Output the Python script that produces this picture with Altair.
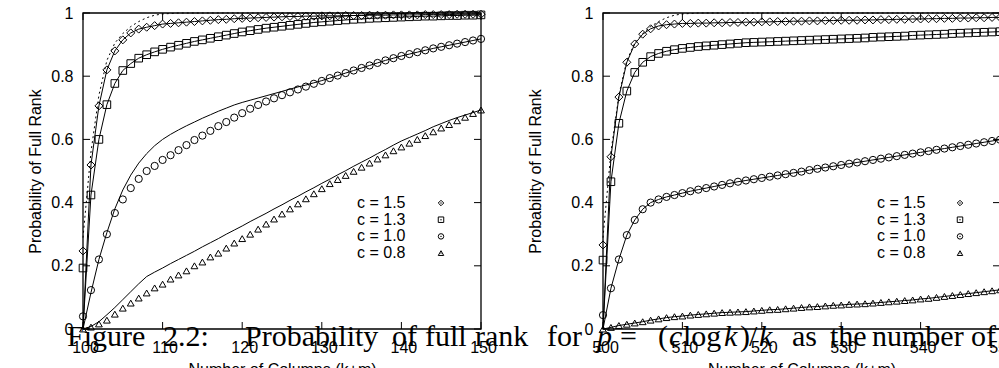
import altair as alt
import pandas as pd

# ---------------- data ----------------
series_names = ["c = 1.5", "c = 1.3", "c = 1.0", "c = 0.8"]
series_shapes = ["diamond", "square", "circle", "triangle-up"]

k_left = list(range(100, 151))
k_right = list(range(500, 551))

x_ticks_left = [100, 110, 120, 130, 140, 150]
x_ticks_right = [500, 510, 520, 530, 540, 550]
y_ticks = [0, 0.2, 0.4, 0.6, 0.8, 1]

# left panel: simulated points
left_c15 = [0.247, 0.519, 0.706, 0.820, 0.880, 0.915, 0.937, 0.949, 0.955, 0.960,
            0.965, 0.967, 0.969, 0.971, 0.973, 0.975, 0.977, 0.979, 0.980, 0.982,
            0.983, 0.984, 0.985, 0.986, 0.987, 0.988, 0.989, 0.989, 0.990, 0.990,
            0.991, 0.991, 0.991, 0.992, 0.992, 0.992, 0.993, 0.993, 0.993, 0.994,
            0.994, 0.994, 0.994, 0.995, 0.995, 0.995, 0.995, 0.996, 0.996, 0.996,
            0.996]
left_c13 = [0.193, 0.424, 0.600, 0.710, 0.777, 0.818, 0.840, 0.857, 0.868, 0.877,
            0.885, 0.892, 0.898, 0.904, 0.910, 0.915, 0.920, 0.925, 0.930, 0.935,
            0.940, 0.944, 0.948, 0.952, 0.955, 0.958, 0.961, 0.964, 0.967, 0.970,
            0.972, 0.974, 0.976, 0.978, 0.980, 0.981, 0.983, 0.984, 0.985, 0.986,
            0.987, 0.988, 0.989, 0.990, 0.990, 0.991, 0.992, 0.992, 0.993, 0.993,
            0.994]
left_c10 = [0.040, 0.123, 0.220, 0.300, 0.367, 0.410, 0.446, 0.475, 0.500, 0.516,
            0.535, 0.550, 0.566, 0.582, 0.598, 0.612, 0.627, 0.642, 0.655, 0.669,
            0.683, 0.697, 0.709, 0.720, 0.730, 0.740, 0.749, 0.758, 0.767, 0.776,
            0.785, 0.794, 0.802, 0.810, 0.818, 0.826, 0.834, 0.842, 0.850, 0.857,
            0.864, 0.870, 0.876, 0.882, 0.888, 0.893, 0.898, 0.903, 0.908, 0.913,
            0.918]
left_c08 = [0.000, 0.006, 0.016, 0.028, 0.047, 0.066, 0.082, 0.098, 0.114, 0.130,
            0.142, 0.158, 0.171, 0.184, 0.200, 0.212, 0.228, 0.240, 0.256, 0.272,
            0.286, 0.300, 0.316, 0.332, 0.348, 0.364, 0.380, 0.396, 0.412, 0.428,
            0.444, 0.460, 0.473, 0.486, 0.499, 0.512, 0.525, 0.538, 0.551, 0.564,
            0.576, 0.588, 0.600, 0.612, 0.624, 0.636, 0.647, 0.659, 0.670, 0.682,
            0.693]

# left panel: analytic curves (solid)
left_c15_line = [0.000, 0.519, 0.706, 0.820, 0.880, 0.915, 0.937, 0.949, 0.955, 0.960,
                 0.965, 0.967, 0.969, 0.971, 0.973, 0.975, 0.977, 0.979, 0.980, 0.982,
                 0.983, 0.984, 0.985, 0.986, 0.987, 0.988, 0.989, 0.989, 0.990, 0.990,
                 0.991, 0.991, 0.991, 0.992, 0.992, 0.992, 0.993, 0.993, 0.993, 0.994,
                 0.994, 0.994, 0.994, 0.995, 0.995, 0.995, 0.995, 0.996, 0.996, 0.996,
                 0.996]
left_c13_line = [0.000, 0.424, 0.600, 0.710, 0.777, 0.818, 0.840, 0.857, 0.868, 0.877,
                 0.885, 0.892, 0.898, 0.904, 0.910, 0.915, 0.920, 0.925, 0.930, 0.935,
                 0.940, 0.944, 0.948, 0.952, 0.955, 0.958, 0.961, 0.964, 0.967, 0.970,
                 0.972, 0.974, 0.976, 0.978, 0.980, 0.981, 0.983, 0.984, 0.985, 0.986,
                 0.987, 0.988, 0.989, 0.990, 0.990, 0.991, 0.992, 0.992, 0.993, 0.993,
                 0.994]
left_c10_line = [0.000, 0.115, 0.220, 0.305, 0.380, 0.440, 0.487, 0.525, 0.555, 0.580,
                 0.600, 0.616, 0.630, 0.643, 0.655, 0.667, 0.678, 0.689, 0.699, 0.709,
                 0.717, 0.724, 0.731, 0.738, 0.745, 0.752, 0.759, 0.766, 0.772, 0.779,
                 0.786, 0.794, 0.802, 0.810, 0.818, 0.826, 0.834, 0.842, 0.850, 0.857,
                 0.864, 0.870, 0.876, 0.882, 0.888, 0.893, 0.898, 0.903, 0.908, 0.913,
                 0.918]
left_c08_line = [0.000, 0.008, 0.023, 0.045, 0.068, 0.093, 0.118, 0.143, 0.166, 0.180,
                 0.193, 0.207, 0.220, 0.233, 0.246, 0.260, 0.273, 0.286, 0.300, 0.313,
                 0.326, 0.340, 0.353, 0.366, 0.380, 0.393, 0.407, 0.420, 0.434, 0.447,
                 0.461, 0.474, 0.488, 0.501, 0.515, 0.528, 0.541, 0.555, 0.568, 0.582,
                 0.595, 0.606, 0.617, 0.628, 0.640, 0.650, 0.660, 0.669, 0.677, 0.685,
                 0.693]

# right panel: simulated points
right_c15 = [0.266, 0.545, 0.734, 0.844, 0.902, 0.933, 0.950, 0.959, 0.963, 0.965,
             0.967, 0.967, 0.968, 0.968, 0.969, 0.969, 0.970, 0.970, 0.971, 0.971,
             0.972, 0.972, 0.973, 0.973, 0.974, 0.974, 0.975, 0.975, 0.976, 0.976,
             0.977, 0.977, 0.977, 0.978, 0.978, 0.979, 0.979, 0.980, 0.980, 0.981,
             0.981, 0.982, 0.982, 0.983, 0.983, 0.984, 0.984, 0.985, 0.985, 0.986,
             0.986]
right_c13 = [0.218, 0.466, 0.651, 0.753, 0.812, 0.844, 0.862, 0.872, 0.879, 0.884,
             0.888, 0.891, 0.894, 0.896, 0.898, 0.900, 0.902, 0.904, 0.906, 0.907,
             0.908, 0.909, 0.910, 0.911, 0.912, 0.913, 0.914, 0.915, 0.916, 0.917,
             0.918, 0.919, 0.920, 0.921, 0.923, 0.924, 0.925, 0.926, 0.927, 0.929,
             0.930, 0.931, 0.932, 0.933, 0.935, 0.936, 0.937, 0.938, 0.939, 0.940,
             0.941]
right_c10 = [0.044, 0.129, 0.220, 0.297, 0.345, 0.379, 0.400, 0.410, 0.418, 0.424,
             0.430, 0.436, 0.441, 0.446, 0.451, 0.456, 0.461, 0.466, 0.470, 0.474,
             0.478, 0.482, 0.486, 0.490, 0.494, 0.498, 0.503, 0.507, 0.511, 0.515,
             0.519, 0.523, 0.527, 0.531, 0.535, 0.539, 0.543, 0.547, 0.551, 0.555,
             0.559, 0.563, 0.567, 0.571, 0.575, 0.579, 0.583, 0.587, 0.591, 0.595,
             0.599]
right_c08 = [0.000, 0.005, 0.011, 0.015, 0.019, 0.023, 0.028, 0.032, 0.036, 0.039,
             0.041, 0.044, 0.046, 0.048, 0.050, 0.052, 0.053, 0.054, 0.055, 0.057,
             0.059, 0.061, 0.062, 0.064, 0.066, 0.068, 0.070, 0.071, 0.073, 0.075,
             0.076, 0.078, 0.079, 0.080, 0.082, 0.084, 0.086, 0.088, 0.090, 0.092,
             0.095, 0.097, 0.100, 0.103, 0.106, 0.109, 0.112, 0.115, 0.118, 0.121,
             0.124]

# right panel: analytic curves (solid) start from 0 and then follow the points
right_c15_line = [0.000] + right_c15[1:]
right_c13_line = [0.000] + right_c13[1:]
right_c10_line = [0.000] + right_c10[1:]
right_c08_line = [0.000] + right_c08[1:]

# dotted limit curve
dotted_left_k = [100, 101, 102, 103, 104, 105, 106, 107, 108, 109, 110, 112, 150]
dotted_right_k = [500, 501, 502, 503, 504, 505, 506, 507, 508, 509, 510, 512, 550]
dotted_vals = [0.289, 0.560, 0.740, 0.850, 0.905, 0.935, 0.957, 0.973, 0.985, 0.993,
               0.997, 1.0, 1.0]

# caption fragments (overlaid figure caption)
caption_text = ["Figure", "2.2:", "Probability", "of", "full", "rank", "for", "p", "=", "(",
                "c", "log", "k", ")", "/", "k", "as", "the", "number", "of"]
caption_italic = [False, False, False, False, False, False, False, True, False, False,
                  True, False, True, False, False, True, False, False, False, False]

# ---------------- layout / style ----------------
FONT = "Liberation Sans"
SERIF = "Liberation Serif"
PAD_L, PAD_T = 83, 13
PW, PH = 916, 316
LEFT_RANGE = [0, 398]
RIGHT_RANGE = [520, 917]
TICK = 7
caption_x_abs = [67, 163, 245, 392, 425, 475, 547, 597, 620, 658,
                 669, 683, 724, 740, 749, 759, 792, 830, 872, 971]

shape_scale = alt.Scale(domain=series_names, range=series_shapes)
size_scale = alt.Scale(domain=series_names, range=[64, 46, 52, 56])


def long_df(k, cols):
    rows = []
    for name, vals in zip(series_names, cols):
        for kk, v in zip(k, vals):
            rows.append({"k": kk, "p": v, "series": name})
    return pd.DataFrame(rows)


def panel(k, markers, curves, dk, dv, xticks, xrange, ytitle_x, yoffset):
    xdom = [k[0], k[-1]]
    xs = alt.Scale(domain=xdom, range=xrange, nice=False, zero=False)
    ys = alt.Scale(domain=[0, 1], nice=False, zero=False)
    xaxis = alt.Axis(values=xticks, format="d", orient="bottom", ticks=False,
                     domain=False, grid=False, labelFont=FONT, labelFontSize=16,
                     labelColor="black", labelPadding=10, labelFlush=False, labelOffset=2,
                     labelOverlap=False,
                     title="Number of Columns (k+m)", titleFont=FONT, titleFontSize=16,
                     titleFontWeight="normal", titleColor="black",
                     titleX=(xrange[0] + xrange[1]) / 2, titleY=45,
                     titleBaseline="alphabetic")
    yaxis = alt.Axis(values=y_ticks, format="~g", orient="left", offset=yoffset,
                     ticks=False, domain=False, grid=False, labelFlush=False,
                     labelOverlap=False,
                     labelFont=FONT, labelFontSize=16, labelColor="black", labelPadding=10,
                     title="Probability of Full Rank", titleFont=FONT, titleFontSize=16,
                     titleFontWeight="normal", titleColor="black", titleAngle=270,
                     titleX=ytitle_x, titleY=PH / 2, titleBaseline="alphabetic",
                     titleAlign="center")
    X = lambda f: alt.X(f, scale=xs, axis=None)
    Y = lambda f: alt.Y(f, scale=ys, axis=None)
    pts = alt.Chart(long_df(k, markers)).mark_point(
        filled=False, color="black", strokeWidth=1, opacity=1).encode(
        x=alt.X("k:Q", scale=xs, axis=xaxis), y=alt.Y("p:Q", scale=ys, axis=yaxis),
        shape=alt.Shape("series:N", scale=shape_scale, legend=None),
        size=alt.Size("series:N", scale=size_scale, legend=None))
    frame_df = pd.DataFrame({"x0": [xdom[0]], "x1": [xdom[1]], "y0": [0.0], "y1": [1.0]})
    frame = alt.Chart(frame_df).mark_rect(fill="transparent", stroke="black",
                                          strokeWidth=1.3).encode(
        x=X("x0:Q"), x2="x1:Q", y=Y("y0:Q"), y2="y1:Q")
    dotted = alt.Chart(pd.DataFrame({"k": dk, "p": dv})).mark_line(
        color="black", strokeWidth=1, strokeDash=[2, 3]).encode(x=X("k:Q"), y=Y("p:Q"))
    lines = alt.Chart(long_df(k, curves)).mark_line(color="black", strokeWidth=1).encode(
        x=X("k:Q"), y=Y("p:Q"), detail="series:N")
    xt = pd.DataFrame({"t": xticks})
    yt = pd.DataFrame({"t": y_ticks})
    rule = dict(color="black", strokeWidth=1)
    xb = alt.Chart(xt).mark_rule(**rule).encode(
        x=X("t:Q"), y=alt.value(PH), y2=alt.value(PH - TICK))
    xtp = alt.Chart(xt).mark_rule(**rule).encode(
        x=X("t:Q"), y=alt.value(0), y2=alt.value(TICK))
    yl = alt.Chart(yt).mark_rule(**rule).encode(
        y=Y("t:Q"), x=alt.value(xrange[0]), x2=alt.value(xrange[0] + TICK))
    yr = alt.Chart(yt).mark_rule(**rule).encode(
        y=Y("t:Q"), x=alt.value(xrange[1] - TICK), x2=alt.value(xrange[1]))
    return [pts, frame, dotted, lines, xb, xtp, yl, yr]


left = panel(k_left, [left_c15, left_c13, left_c10, left_c08],
             [left_c15_line, left_c13_line, left_c10_line, left_c08_line],
             dotted_left_k, dotted_vals, x_ticks_left, LEFT_RANGE, -43, 0)
right = panel(k_right, [right_c15, right_c13, right_c10, right_c08],
              [right_c15_line, right_c13_line, right_c10_line, right_c08_line],
              dotted_right_k, dotted_vals, x_ticks_right, RIGHT_RANGE, -63, -RIGHT_RANGE[0])

leg_df = pd.DataFrame({"series": series_names, "row": [0, 1, 2, 3]})


def legend(x_text, x_sym):
    base = alt.Chart(leg_df).transform_calculate(py="190 + 16.7 * datum.row")
    ypos = alt.Y("py:Q", scale=None, axis=None)
    txt = base.mark_text(align="left", baseline="middle", font=FONT, fontSize=16,
                         color="black").encode(x=alt.value(x_text), y=ypos, text="series:N")
    sym = base.mark_point(filled=False, color="black", size=30, strokeWidth=1,
                          opacity=1).encode(
        x=alt.value(x_sym), y=ypos,
        shape=alt.Shape("series:N", scale=shape_scale, legend=None))
    dot = base.mark_point(filled=True, color="black", size=2, shape="circle",
                          opacity=1).encode(x=alt.value(x_sym), y=ypos)
    return [txt, sym, dot]


cap_df = pd.DataFrame({"text": caption_text,
                       "px": [v - PAD_L for v in caption_x_abs],
                       "italic": caption_italic})
cap_roman = alt.Chart(cap_df).transform_filter("!datum.italic").mark_text(
    align="left", baseline="alphabetic", font=SERIF, fontSize=30, color="black").encode(
    x=alt.X("px:Q", scale=None, axis=None), y=alt.value(333), text="text:N")
cap_italic = alt.Chart(cap_df).transform_filter("datum.italic").mark_text(
    align="left", baseline="alphabetic", font=SERIF, fontSize=30, fontStyle="italic",
    color="black").encode(
    x=alt.X("px:Q", scale=None, axis=None), y=alt.value(333), text="text:N")

chart = alt.layer(
    *left, *right,
    *legend(274, 358),
    *legend(794, 877),
    cap_roman, cap_italic,
).resolve_scale(x="independent", y="independent", shape="shared", size="independent").resolve_axis(
    x="independent", y="independent"
).properties(
    width=PW, height=PH,
    autosize=alt.AutoSizeParams(type="none"),
    padding={"left": PAD_L, "top": PAD_T, "right": 0, "bottom": 368 - PAD_T - PH},
    background="white",
).configure_view(stroke="transparent")

chart.save("out.html", embed_options={"renderer": "svg", "actions": False})
